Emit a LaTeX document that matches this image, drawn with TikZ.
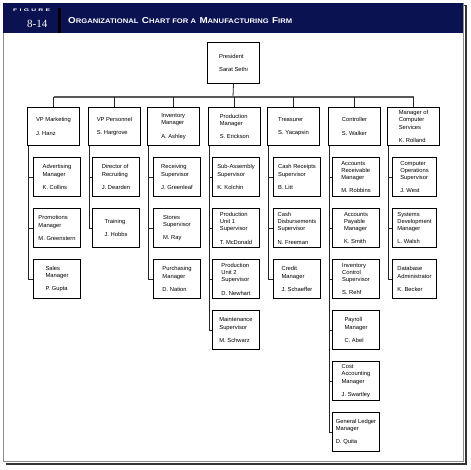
\documentclass[tikz,border=0pt]{standalone}
\usepackage{fontspec}
\usepackage{graphicx}
\setmainfont{Liberation Sans}
\newfontfamily\serifnum{Liberation Serif}
\definecolor{navy}{RGB}{10,18,82}
\newcommand\orgfont{\fontsize{5.8}{7.3}\selectfont}
\newcommand\tn[2]{#1\\[6pt]#2}
\newcommand\bigc[1]{{\fontsize{8}{8}\selectfont #1}}
\newcommand\smc[1]{{\fontsize{6.2}{6}\selectfont #1}}
\tikzset{
  topbox/.style={draw=black, line width=1pt, align=left, font=\orgfont, inner sep=1pt,
    anchor=north west, minimum width=52pt, minimum height=38pt},
  subbox/.style={topbox, minimum width=47pt, minimum height=39pt},
  compbox/.style={topbox, minimum width=44pt, minimum height=39pt},
  link/.style={line width=0.8pt, draw=black!85},
  bus/.style={line width=1.2pt, draw=black!65}
}
\begin{document}
\begin{tikzpicture}[x=1pt,y=-1pt]
\useasboundingbox (0,0) rectangle (471,470);
\fill[white] (0,0) rectangle (471,470);
% frame
\draw[black!80, line width=1.4pt] (5.5,5.5) -- (466,5.5) -- (466,464) -- (5.5,464);
\draw[black!45, line width=0.7pt] (3,3) rectangle (463,461);
% header
\fill[navy] (3,3) rectangle (463,33);
\fill[black] (58,8) rectangle (60.5,33);
\node[anchor=west, inner sep=0, text=white] (figlabel) at (13,10.5)
  {\resizebox{37pt}{2.6pt}{\bfseries F\,\,I\,\,G\,\,U\,\,R\,\,E}};
\node[anchor=base west, inner sep=0, text=white, font=\serifnum\fontsize{11}{11}\selectfont] (fignum) at (27,28) {8-14};
\node[anchor=base west, inner sep=0, text=white] (title) at (68,23.3)
  {\resizebox{224pt}{6pt}{\bfseries\bigc{O}\smc{RGANIZATIONAL} \bigc{C}\smc{HART FOR A} \bigc{M}\smc{ANUFACTURING} \bigc{F}\smc{IRM}}};
% president
\node[topbox, minimum height=41pt] (pres) at (207,42) {\tn{President}{Sarat Sethi}};
\coordinate (busc) at (233,97);
% top row
\node[topbox] (mk) at (27,107) {\tn{VP Marketing}{J. Hanz}};
\node[topbox] (pe) at (88,107) {\tn{VP Personnel}{S. Hargrove}};
\node[topbox] (iv) at (147,107) {\tn{Inventory\\Manager}{A. Ashley}};
\node[topbox] (pr) at (208,107) {\tn{Production\\Manager}{S. Erickson}};
\node[topbox] (tr) at (267,107) {\tn{Treasurer}{S. Yacapsin}};
\node[topbox] (co) at (328,107) {\tn{Controller}{S. Walker}};
\node[topbox] (cs) at (387,107) {\tn{Manager of\\Computer\\Services}{K. Rolland}};
% marketing
\node[subbox] (mk1) at (33,157) {\tn{Advertising\\Manager}{K. Collins}};
\node[subbox] (mk2) at (33,208) {\tn{Promotions\\Manager}{M. Greenstern}};
\node[subbox] (mk3) at (33,259) {\tn{Sales\\Manager}{P. Gupta}};
% personnel
\node[subbox] (pe1) at (92,157) {\tn{Director of\\Recruiting}{J. Dearden}};
\node[subbox] (pe2) at (92,208) {\tn{Training}{J. Hobbs}};
% inventory
\node[subbox] (iv1) at (153,157) {\tn{Receiving\\Supervisor}{J. Greenleaf}};
\node[subbox] (iv2) at (153,208) {\tn{Stores\\Supervisor}{M. Ray}};
\node[subbox] (iv3) at (153,259) {\tn{Purchasing\\Manager}{D. Nation}};
% production
\node[subbox] (pr1) at (212,157) {\tn{Sub-Assembly\\Supervisor}{K. Kolchin}};
\node[subbox] (pr2) at (212,208) {\tn{Production\\Unit 1\\Supervisor}{T. McDonald}};
\node[subbox] (pr3) at (212,259) {\tn{Production\\Unit 2\\Supervisor}{D. Newhart}};
\node[subbox] (pr4) at (212,310) {\tn{Maintenance\\Supervisor}{M. Schwarz}};
% treasurer
\node[subbox] (tr1) at (273,157) {\tn{Cash Receipts\\Supervisor}{B. Litt}};
\node[subbox] (tr2) at (273,208) {\tn{Cash\\Disbursements\\Supervisor}{N. Freeman}};
\node[subbox] (tr3) at (273,259) {\tn{Credit\\Manager}{J. Schaeffer}};
% controller
\node[subbox] (co1) at (332,157) {\tn{Accounts\\Receivable\\Manager}{M. Robbins}};
\node[subbox] (co2) at (332,208) {\tn{Accounts\\Payable\\Manager}{K. Smith}};
\node[subbox] (co3) at (332,259) {\tn{Inventory\\Control\\Supervisor}{S. Rehf}};
\node[subbox] (co4) at (332,310) {\tn{Payroll\\Manager}{C. Abel}};
\node[subbox] (co5) at (332,361) {\tn{Cost\\Accounting\\Manager}{J. Swartley}};
\node[subbox] (co6) at (332,412) {\tn{General Ledger\\Manager}{D. Quita}};
% computer services
\node[compbox] (cs1) at (392,157) {\tn{Computer\\Operations\\Supervisor}{J. West}};
\node[compbox] (cs2) at (392,208) {\tn{Systems\\Development\\Manager}{L. Walsh}};
\node[compbox] (cs3) at (392,259) {\tn{Database\\Administrator}{K. Becker}};
% bus
\draw[link] (pres.south) -- (busc);
\draw[bus] (mk.north |- busc) -- (cs.north |- busc);
\foreach \t in {mk,pe,iv,pr,tr,co,cs}
  \draw[link] (\t.north |- busc) -- (\t.north);
% subordinate links
\foreach \p/\c in {mk/mk1,mk/mk2,mk/mk3,pe/pe1,pe/pe2,iv/iv1,iv/iv2,iv/iv3,
  pr/pr1,pr/pr2,pr/pr3,pr/pr4,tr/tr1,tr/tr2,tr/tr3,
  co/co1,co/co2,co/co3,co/co4,co/co5,co/co6,cs/cs1,cs/cs2,cs/cs3}
  \draw[link] ([xshift=1.5pt]\p.south west) |- (\c.west);
\end{tikzpicture}
\end{document}
